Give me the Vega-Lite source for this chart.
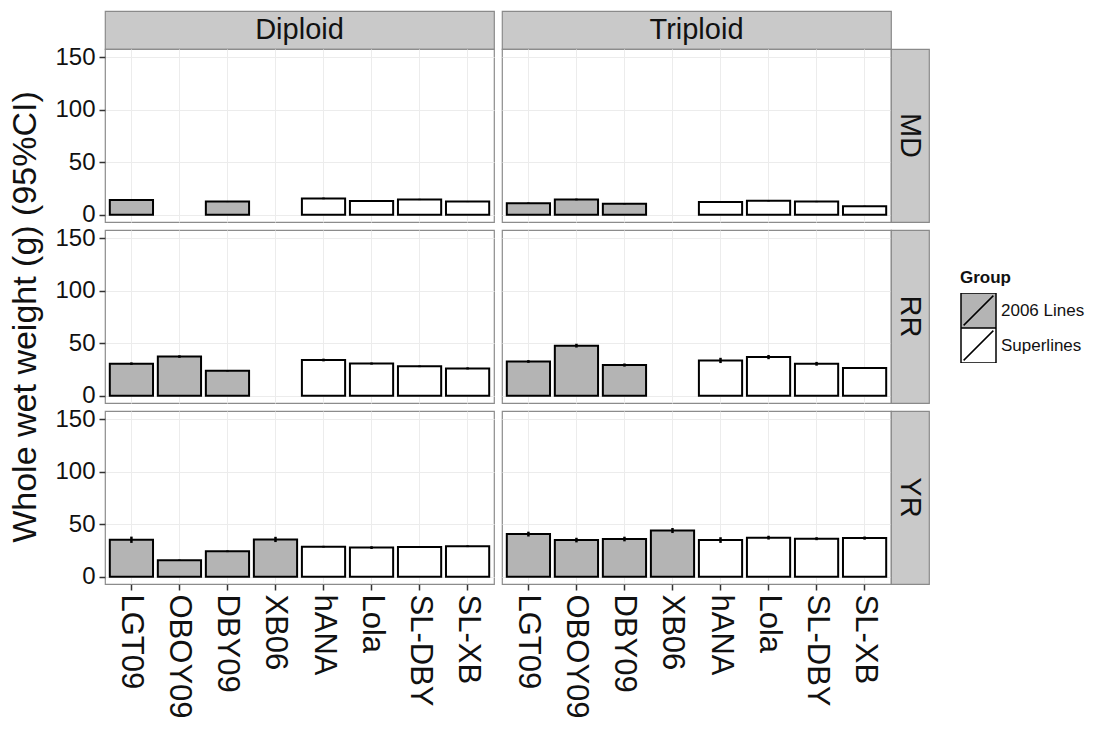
{
"$schema": "https://vega.github.io/schema/vega-lite/v6.json",
"padding": {"left": 8, "top": 10, "right": 5, "bottom": 5},
"background": "white",
"datasets": {"d": [
{"ploidy":"Diploid","site":"MD","line":"LGT09","group":"2006 Lines","mean":14,"lo":13.5,"hi":14.5},
{"ploidy":"Diploid","site":"MD","line":"DBY09","group":"2006 Lines","mean":12.5,"lo":12,"hi":13},
{"ploidy":"Diploid","site":"MD","line":"hANA","group":"Superlines","mean":15.5,"lo":14.7,"hi":16.3},
{"ploidy":"Diploid","site":"MD","line":"Lola","group":"Superlines","mean":13,"lo":12.4,"hi":13.6},
{"ploidy":"Diploid","site":"MD","line":"SL-DBY","group":"Superlines","mean":14.5,"lo":13.9,"hi":15.1},
{"ploidy":"Diploid","site":"MD","line":"SL-XB","group":"Superlines","mean":12.5,"lo":12,"hi":13},
{"ploidy":"Triploid","site":"MD","line":"LGT09","group":"2006 Lines","mean":11,"lo":10.4,"hi":11.6},
{"ploidy":"Triploid","site":"MD","line":"OBOY09","group":"2006 Lines","mean":14.5,"lo":13.7,"hi":15.3},
{"ploidy":"Triploid","site":"MD","line":"DBY09","group":"2006 Lines","mean":10.3,"lo":9.8,"hi":10.8},
{"ploidy":"Triploid","site":"MD","line":"hANA","group":"Superlines","mean":12,"lo":11.3,"hi":12.7},
{"ploidy":"Triploid","site":"MD","line":"Lola","group":"Superlines","mean":13.2,"lo":12.6,"hi":13.8},
{"ploidy":"Triploid","site":"MD","line":"SL-DBY","group":"Superlines","mean":12.5,"lo":11.9,"hi":13.1},
{"ploidy":"Triploid","site":"MD","line":"SL-XB","group":"Superlines","mean":8,"lo":7.5,"hi":8.5},
{"ploidy":"Diploid","site":"RR","line":"LGT09","group":"2006 Lines","mean":30.5,"lo":29.3,"hi":31.7},
{"ploidy":"Diploid","site":"RR","line":"OBOY09","group":"2006 Lines","mean":37.3,"lo":36.1,"hi":38.5},
{"ploidy":"Diploid","site":"RR","line":"DBY09","group":"2006 Lines","mean":23.7,"lo":23.1,"hi":24.3},
{"ploidy":"Diploid","site":"RR","line":"hANA","group":"Superlines","mean":34,"lo":32.7,"hi":35.3},
{"ploidy":"Diploid","site":"RR","line":"Lola","group":"Superlines","mean":30.6,"lo":29.6,"hi":31.6},
{"ploidy":"Diploid","site":"RR","line":"SL-DBY","group":"Superlines","mean":28,"lo":27.2,"hi":28.8},
{"ploidy":"Diploid","site":"RR","line":"SL-XB","group":"Superlines","mean":26,"lo":25,"hi":27},
{"ploidy":"Triploid","site":"RR","line":"LGT09","group":"2006 Lines","mean":32.6,"lo":31.3,"hi":33.9},
{"ploidy":"Triploid","site":"RR","line":"OBOY09","group":"2006 Lines","mean":47.7,"lo":45.9,"hi":49.5},
{"ploidy":"Triploid","site":"RR","line":"DBY09","group":"2006 Lines","mean":29.2,"lo":27.7,"hi":30.7},
{"ploidy":"Triploid","site":"RR","line":"hANA","group":"Superlines","mean":33.6,"lo":31.1,"hi":36.1},
{"ploidy":"Triploid","site":"RR","line":"Lola","group":"Superlines","mean":36.8,"lo":34.8,"hi":38.8},
{"ploidy":"Triploid","site":"RR","line":"SL-DBY","group":"Superlines","mean":30.4,"lo":28.6,"hi":32.2},
{"ploidy":"Triploid","site":"RR","line":"SL-XB","group":"Superlines","mean":26.3,"lo":25.5,"hi":27.1},
{"ploidy":"Diploid","site":"YR","line":"LGT09","group":"2006 Lines","mean":35.2,"lo":32.2,"hi":38.2},
{"ploidy":"Diploid","site":"YR","line":"OBOY09","group":"2006 Lines","mean":15.7,"lo":15.1,"hi":16.3},
{"ploidy":"Diploid","site":"YR","line":"DBY09","group":"2006 Lines","mean":24.2,"lo":23.4,"hi":25},
{"ploidy":"Diploid","site":"YR","line":"XB06","group":"2006 Lines","mean":35.5,"lo":33,"hi":38},
{"ploidy":"Diploid","site":"YR","line":"hANA","group":"Superlines","mean":28.6,"lo":27.8,"hi":29.4},
{"ploidy":"Diploid","site":"YR","line":"Lola","group":"Superlines","mean":27.7,"lo":26.4,"hi":29},
{"ploidy":"Diploid","site":"YR","line":"SL-DBY","group":"Superlines","mean":28.3,"lo":27.7,"hi":28.9},
{"ploidy":"Diploid","site":"YR","line":"SL-XB","group":"Superlines","mean":29,"lo":28.2,"hi":29.8},
{"ploidy":"Triploid","site":"YR","line":"LGT09","group":"2006 Lines","mean":40.6,"lo":38.3,"hi":42.9},
{"ploidy":"Triploid","site":"YR","line":"OBOY09","group":"2006 Lines","mean":34.9,"lo":32.7,"hi":37.1},
{"ploidy":"Triploid","site":"YR","line":"DBY09","group":"2006 Lines","mean":35.9,"lo":33.7,"hi":38.1},
{"ploidy":"Triploid","site":"YR","line":"XB06","group":"2006 Lines","mean":44,"lo":41.6,"hi":46.4},
{"ploidy":"Triploid","site":"YR","line":"hANA","group":"Superlines","mean":34.9,"lo":32.2,"hi":37.6},
{"ploidy":"Triploid","site":"YR","line":"Lola","group":"Superlines","mean":37.2,"lo":35.4,"hi":39},
{"ploidy":"Triploid","site":"YR","line":"SL-DBY","group":"Superlines","mean":36.2,"lo":34.8,"hi":37.6},
{"ploidy":"Triploid","site":"YR","line":"SL-XB","group":"Superlines","mean":36.8,"lo":35.3,"hi":38.3}
]},
"columns": 4,
"spacing": 0,
"bounds": "flush",
"resolve": {"scale": {"fill": "shared"}, "legend": {"fill": "shared"}},
"concat": [
{"width":389,"height":38,"data":{"values":[{"t":"Diploid"}]},"mark":{"type":"text","fontSize":29,"color":"#111"},"encoding":{"text":{"field":"t"}},"view":{"fill":"#c9c9c9","stroke":"#8a8a8a","strokeWidth":1.2}},
{"width":8,"height":8,"data":{"values":[{}]},"mark":{"type":"point","opacity":0}},
{"width":389,"height":38,"data":{"values":[{"t":"Triploid"}]},"mark":{"type":"text","fontSize":29,"color":"#111"},"encoding":{"text":{"field":"t"}},"view":{"fill":"#c9c9c9","stroke":"#8a8a8a","strokeWidth":1.2}},
{"width":8,"height":8,"data":{"values":[{}]},"mark":{"type":"point","opacity":0}},

{"width":389,"height":173,"data":{"name":"d"},"transform":[{"filter":"datum.ploidy == 'Diploid' && datum.site == 'MD'"}],"view":{"stroke":"#8c8c8c","strokeWidth":1.2,"fill":"white"},
"encoding":{"x":{"field":"line","type":"nominal","sort":null,"scale":{"domain":["LGT09","OBOY09","DBY09","XB06","hANA","Lola","SL-DBY","SL-XB"],"paddingInner":0.1,"paddingOuter":0.1},"axis":{"title":null,"labels":false,"ticks":false,"domain":false,"grid":true,"gridColor":"#ececec"}}},
"layer":[
{"mark":{"type":"bar","stroke":"black","strokeWidth":2},"encoding":{"y":{"field":"mean","type":"quantitative","scale":{"domain":[-7,158],"nice":false,"zero":false},"axis":{"values":[0,50,100,150],"title":null,"labelFontSize":24,"labelColor":"#111","grid":true,"gridColor":"#ececec","tickColor":"#333","tickSize":6,"tickWidth":1.5,"domain":false,"labelPadding":4}},"y2":{"datum":0},"fill":{"field":"group","type":"nominal","scale":{"domain":["2006 Lines","Superlines"],"range":["#b4b4b4","#ffffff"]},"legend":{"title":"Group","orient":"none","legendX":855,"legendY":259}}}},
{"mark":{"type":"rule","color":"black","strokeWidth":2.5},"encoding":{"y":{"field":"lo","type":"quantitative"},"y2":{"field":"hi"}}}
]},
{"width":8,"height":8,"data":{"values":[{}]},"mark":{"type":"point","opacity":0}},
{"width":389,"height":173,"data":{"name":"d"},"transform":[{"filter":"datum.ploidy == 'Triploid' && datum.site == 'MD'"}],"view":{"stroke":"#8c8c8c","strokeWidth":1.2,"fill":"white"},
"encoding":{"x":{"field":"line","type":"nominal","sort":null,"scale":{"domain":["LGT09","OBOY09","DBY09","XB06","hANA","Lola","SL-DBY","SL-XB"],"paddingInner":0.1,"paddingOuter":0.1},"axis":{"title":null,"labels":false,"ticks":false,"domain":false,"grid":true,"gridColor":"#ececec"}}},
"layer":[
{"mark":{"type":"bar","stroke":"black","strokeWidth":2},"encoding":{"y":{"field":"mean","type":"quantitative","scale":{"domain":[-7,158],"nice":false,"zero":false},"axis":{"values":[0,50,100,150],"title":null,"labels":false,"ticks":false,"domain":false,"grid":true,"gridColor":"#ececec"}},"y2":{"datum":0},"fill":{"field":"group","type":"nominal","scale":{"domain":["2006 Lines","Superlines"],"range":["#b4b4b4","#ffffff"]},"legend":{"title":"Group","orient":"none","legendX":855,"legendY":259}}}},
{"mark":{"type":"rule","color":"black","strokeWidth":2.5},"encoding":{"y":{"field":"lo","type":"quantitative"},"y2":{"field":"hi"}}}
]},
{"width":38,"height":173,"data":{"values":[{"t":"MD"}]},"mark":{"type":"text","fontSize":29,"angle":90,"color":"#111"},"encoding":{"text":{"field":"t"}},"view":{"fill":"#c9c9c9","stroke":"#8a8a8a","strokeWidth":1.2}},

{"width":8,"height":8,"data":{"values":[{}]},"mark":{"type":"point","opacity":0}},
{"width":8,"height":8,"data":{"values":[{}]},"mark":{"type":"point","opacity":0}},
{"width":8,"height":8,"data":{"values":[{}]},"mark":{"type":"point","opacity":0}},
{"width":8,"height":8,"data":{"values":[{}]},"mark":{"type":"point","opacity":0}},

{"width":389,"height":173,"data":{"name":"d"},"transform":[{"filter":"datum.ploidy == 'Diploid' && datum.site == 'RR'"}],"view":{"stroke":"#8c8c8c","strokeWidth":1.2,"fill":"white"},
"encoding":{"x":{"field":"line","type":"nominal","sort":null,"scale":{"domain":["LGT09","OBOY09","DBY09","XB06","hANA","Lola","SL-DBY","SL-XB"],"paddingInner":0.1,"paddingOuter":0.1},"axis":{"title":null,"labels":false,"ticks":false,"domain":false,"grid":true,"gridColor":"#ececec"}}},
"layer":[
{"mark":{"type":"bar","stroke":"black","strokeWidth":2},"encoding":{"y":{"field":"mean","type":"quantitative","scale":{"domain":[-7,158],"nice":false,"zero":false},"axis":{"values":[0,50,100,150],"title":"Whole wet weight (g) (95%CI)","titleFontSize":34,"titleFontWeight":"normal","titleColor":"#111","titlePadding":12,"labelFontSize":24,"labelColor":"#111","grid":true,"gridColor":"#ececec","tickColor":"#333","tickSize":6,"tickWidth":1.5,"domain":false,"labelPadding":4}},"y2":{"datum":0},"fill":{"field":"group","type":"nominal","scale":{"domain":["2006 Lines","Superlines"],"range":["#b4b4b4","#ffffff"]},"legend":{"title":"Group","orient":"none","legendX":855,"legendY":259}}}},
{"mark":{"type":"rule","color":"black","strokeWidth":2.5},"encoding":{"y":{"field":"lo","type":"quantitative"},"y2":{"field":"hi"}}}
]},
{"width":8,"height":8,"data":{"values":[{}]},"mark":{"type":"point","opacity":0}},
{"width":389,"height":173,"data":{"name":"d"},"transform":[{"filter":"datum.ploidy == 'Triploid' && datum.site == 'RR'"}],"view":{"stroke":"#8c8c8c","strokeWidth":1.2,"fill":"white"},
"encoding":{"x":{"field":"line","type":"nominal","sort":null,"scale":{"domain":["LGT09","OBOY09","DBY09","XB06","hANA","Lola","SL-DBY","SL-XB"],"paddingInner":0.1,"paddingOuter":0.1},"axis":{"title":null,"labels":false,"ticks":false,"domain":false,"grid":true,"gridColor":"#ececec"}}},
"layer":[
{"mark":{"type":"bar","stroke":"black","strokeWidth":2},"encoding":{"y":{"field":"mean","type":"quantitative","scale":{"domain":[-7,158],"nice":false,"zero":false},"axis":{"values":[0,50,100,150],"title":null,"labels":false,"ticks":false,"domain":false,"grid":true,"gridColor":"#ececec"}},"y2":{"datum":0},"fill":{"field":"group","type":"nominal","scale":{"domain":["2006 Lines","Superlines"],"range":["#b4b4b4","#ffffff"]},"legend":{"title":"Group","orient":"none","legendX":855,"legendY":259}}}},
{"mark":{"type":"rule","color":"black","strokeWidth":2.5},"encoding":{"y":{"field":"lo","type":"quantitative"},"y2":{"field":"hi"}}}
]},
{"width":38,"height":173,"data":{"values":[{"t":"RR"}]},"mark":{"type":"text","fontSize":29,"angle":90,"color":"#111"},"encoding":{"text":{"field":"t"}},"view":{"fill":"#c9c9c9","stroke":"#8a8a8a","strokeWidth":1.2}},

{"width":8,"height":8,"data":{"values":[{}]},"mark":{"type":"point","opacity":0}},
{"width":8,"height":8,"data":{"values":[{}]},"mark":{"type":"point","opacity":0}},
{"width":8,"height":8,"data":{"values":[{}]},"mark":{"type":"point","opacity":0}},
{"width":8,"height":8,"data":{"values":[{}]},"mark":{"type":"point","opacity":0}},

{"width":389,"height":173,"data":{"name":"d"},"transform":[{"filter":"datum.ploidy == 'Diploid' && datum.site == 'YR'"}],"view":{"stroke":"#8c8c8c","strokeWidth":1.2,"fill":"white"},
"encoding":{"x":{"field":"line","type":"nominal","sort":null,"scale":{"domain":["LGT09","OBOY09","DBY09","XB06","hANA","Lola","SL-DBY","SL-XB"],"paddingInner":0.1,"paddingOuter":0.1},"axis":{"title":null,"labelAngle":90,"labelFontSize":31,"labelColor":"#111","labelAlign":"left","labelBaseline":"middle","tickColor":"#333","tickSize":6,"tickWidth":1.5,"domain":false,"grid":true,"gridColor":"#ececec","labelPadding":4}}},
"layer":[
{"mark":{"type":"bar","stroke":"black","strokeWidth":2},"encoding":{"y":{"field":"mean","type":"quantitative","scale":{"domain":[-7,158],"nice":false,"zero":false},"axis":{"values":[0,50,100,150],"title":null,"labelFontSize":24,"labelColor":"#111","grid":true,"gridColor":"#ececec","tickColor":"#333","tickSize":6,"tickWidth":1.5,"domain":false,"labelPadding":4}},"y2":{"datum":0},"fill":{"field":"group","type":"nominal","scale":{"domain":["2006 Lines","Superlines"],"range":["#b4b4b4","#ffffff"]},"legend":{"title":"Group","orient":"none","legendX":855,"legendY":259}}}},
{"mark":{"type":"rule","color":"black","strokeWidth":2.5},"encoding":{"y":{"field":"lo","type":"quantitative"},"y2":{"field":"hi"}}}
]},
{"width":8,"height":8,"data":{"values":[{}]},"mark":{"type":"point","opacity":0}},
{"width":389,"height":173,"data":{"name":"d"},"transform":[{"filter":"datum.ploidy == 'Triploid' && datum.site == 'YR'"}],"view":{"stroke":"#8c8c8c","strokeWidth":1.2,"fill":"white"},
"encoding":{"x":{"field":"line","type":"nominal","sort":null,"scale":{"domain":["LGT09","OBOY09","DBY09","XB06","hANA","Lola","SL-DBY","SL-XB"],"paddingInner":0.1,"paddingOuter":0.1},"axis":{"title":null,"labelAngle":90,"labelFontSize":31,"labelColor":"#111","labelAlign":"left","labelBaseline":"middle","tickColor":"#333","tickSize":6,"tickWidth":1.5,"domain":false,"grid":true,"gridColor":"#ececec","labelPadding":4}}},
"layer":[
{"mark":{"type":"bar","stroke":"black","strokeWidth":2},"encoding":{"y":{"field":"mean","type":"quantitative","scale":{"domain":[-7,158],"nice":false,"zero":false},"axis":{"values":[0,50,100,150],"title":null,"labels":false,"ticks":false,"domain":false,"grid":true,"gridColor":"#ececec"}},"y2":{"datum":0},"fill":{"field":"group","type":"nominal","scale":{"domain":["2006 Lines","Superlines"],"range":["#b4b4b4","#ffffff"]},"legend":{"title":"Group","orient":"none","legendX":855,"legendY":259}}}},
{"mark":{"type":"rule","color":"black","strokeWidth":2.5},"encoding":{"y":{"field":"lo","type":"quantitative"},"y2":{"field":"hi"}}}
]},
{"width":38,"height":173,"data":{"values":[{"t":"YR"}]},"mark":{"type":"text","fontSize":29,"angle":90,"color":"#111"},"encoding":{"text":{"field":"t"}},"view":{"fill":"#c9c9c9","stroke":"#8a8a8a","strokeWidth":1.2}}
],
"config": {
"font": "Liberation Sans",
"view": {"stroke": null},
"legend": {"titleFontSize": 17, "titleFontWeight": "bold", "titleColor": "#111", "labelFontSize": 17, "labelColor": "#111", "symbolType": "M-1,-1H1V1H-1Z M-0.85,0.85L0.85,-0.85", "symbolSize": 1225, "symbolStrokeColor": "black", "symbolStrokeWidth": 1.5, "rowPadding": 0, "clipHeight": 35, "labelOffset": 4, "titlePadding": 6, "symbolOffset": 0}
}
}
